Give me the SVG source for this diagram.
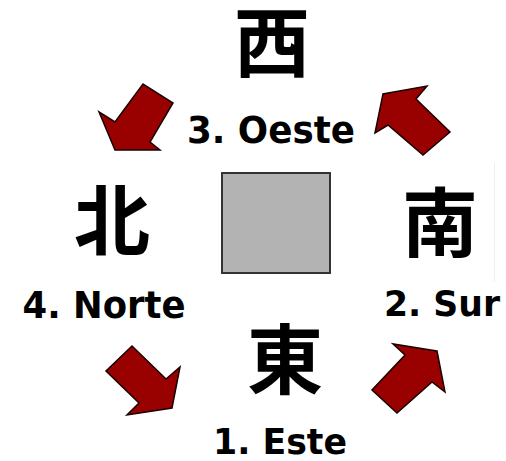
<svg xmlns="http://www.w3.org/2000/svg" width="506" height="461" viewBox="0 0 506 461">
<style>
.arrow{fill:#990000;stroke:#1a0000;stroke-width:1.5;stroke-linejoin:miter}
.lbl{font-family:"DejaVu Sans","Liberation Sans",sans-serif;font-weight:bold;font-size:38px;fill:#000;text-anchor:middle}
.kanji{font-family:"Noto Sans CJK JP","Noto Sans CJK SC",sans-serif;font-weight:bold;font-size:76px;fill:#000;text-anchor:middle}
</style>
<rect width="506" height="461" fill="#fff"/>
<line x1="494.5" y1="163" x2="494.5" y2="282" stroke="#eeeeee" stroke-width="1"/>
<g id="center">
<rect x="222" y="173" width="108" height="100" fill="#b3b3b3" stroke="#333" stroke-width="2"/>
</g>
<g id="west">
<text class="kanji" x="272" y="71">西</text>
<text class="lbl" x="271" y="143" textLength="168" lengthAdjust="spacingAndGlyphs">3. Oeste</text>
</g>
<g id="north">
<text class="kanji" x="112" y="249">北</text>
<text class="lbl" x="104" y="318" textLength="163" lengthAdjust="spacingAndGlyphs">4. Norte</text>
</g>
<g id="south">
<text class="kanji" x="440" y="251">南</text>
<text class="lbl" x="442" y="316" style="font-size:36px" textLength="116" lengthAdjust="spacingAndGlyphs">2. Sur</text>
</g>
<g id="east">
<text class="kanji" x="285" y="388">東</text>
<text class="lbl" x="280" y="454" style="font-size:36px" textLength="134" lengthAdjust="spacingAndGlyphs">1. Este</text>
</g>
<g id="connectors">
<polygon class="arrow" points="115,150 160,150 150,142 173,103 143,84 115,122 99,112"/>
<polygon class="arrow" points="383,94 375,133 388,125 423,155 450,132 416,99 427,86"/>
<polygon class="arrow" points="172,408 180,367 166,379 132,346 106,371 139,403 127,415"/>
<polygon class="arrow" points="437,351 393,344 405,355 372,390 397,413 432,382 445,392"/>
</g>
</svg>
